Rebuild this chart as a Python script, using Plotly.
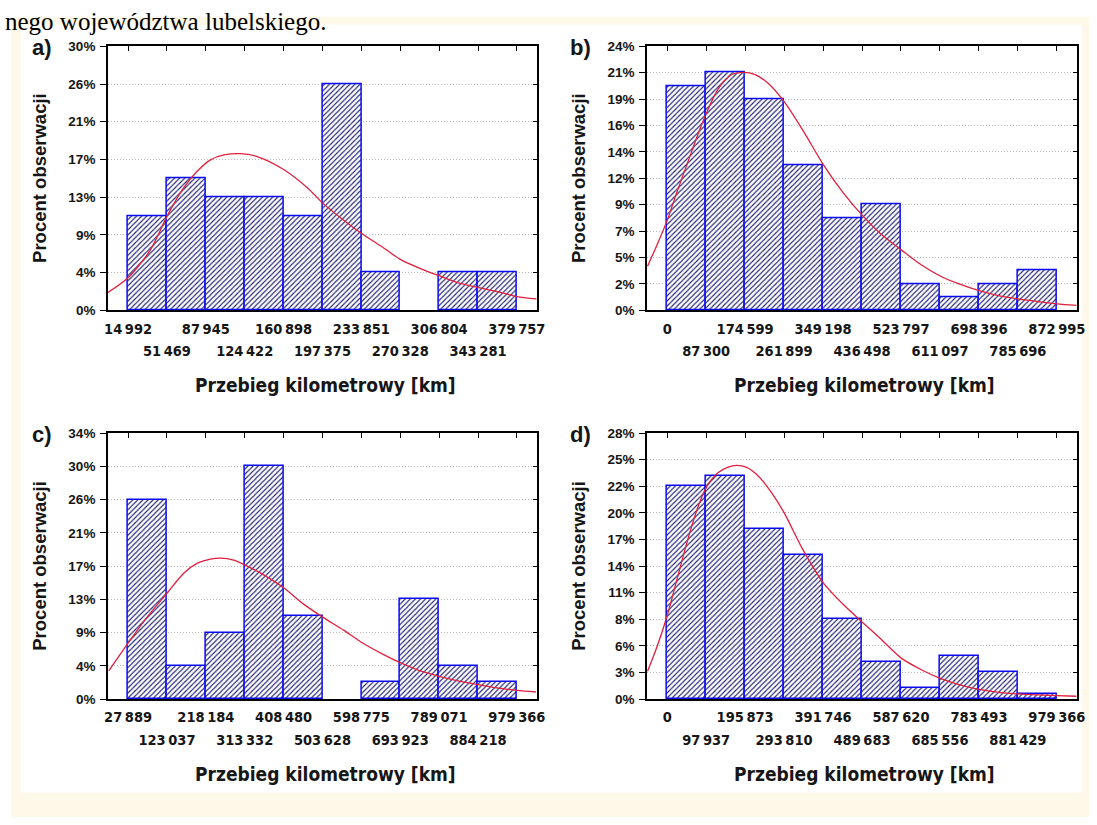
import plotly.graph_objects as go

W, H = 1097, 825

# ---------------------------------------------------------------- data
# class boundaries of the mileage histograms [km]
edges_a = [14992, 51469, 87945, 124422, 160898, 197375, 233851, 270328, 306804, 343281, 379757]
edges_b = [0, 87300, 174599, 261899, 349198, 436498, 523797, 611097, 698396, 785696, 872995]
edges_c = [27889, 123037, 218184, 313332, 408480, 503628, 598775, 693923, 789071, 884218, 979366]
edges_d = [0, 97937, 195873, 293810, 391746, 489683, 587620, 685556, 783493, 881429, 979366]

# share of observations in each class [%]
pct_a = [10.64, 14.89, 12.77, 12.77, 10.64, 25.53, 4.26, 0.0, 4.26, 4.26]
pct_b = [20.00, 21.18, 18.82, 12.94, 8.24, 9.41, 2.35, 1.18, 2.35, 3.53]
pct_c = [25.53, 4.26, 8.51, 29.79, 10.64, 0.0, 2.13, 12.77, 4.26, 2.13]
pct_d = [22.35, 23.46, 17.88, 15.08, 8.38, 3.91, 1.12, 4.47, 2.79, 0.56]

# top of the percentage scale and its tick labels
ymax_a = 29.79
ymax_b = 23.53
ymax_c = 34.04
ymax_d = 27.93
ylab_a = ["0%", "4%", "9%", "13%", "17%", "21%", "26%", "30%"]
ylab_b = ["0%", "2%", "5%", "7%", "9%", "12%", "14%", "16%", "19%", "21%", "24%"]
ylab_c = ["0%", "4%", "9%", "13%", "17%", "21%", "26%", "30%", "34%"]
ylab_d = ["0%", "3%", "6%", "8%", "11%", "14%", "17%", "20%", "22%", "25%", "28%"]

# fitted distribution curves (km, %)
fit_a_x = [-6300, 14992, 35970, 51940, 67270, 79800, 92320, 104870, 120520, 136170,
           161230, 183130, 197850, 217580, 234180, 255160, 270810, 292730, 307450,
           324040, 343740, 364720, 379760, 398200]
fit_a_y = [1.85, 3.69, 6.83, 10.71, 13.84, 15.69, 16.98, 17.53, 17.68, 17.35,
           15.87, 13.84, 12.07, 10.15, 8.67, 7.01, 5.72, 4.54, 3.88,
           3.14, 2.58, 2.03, 1.55, 1.29]

fit_b_x = [-43950, -22730, 0, 22730, 45470, 68200, 87150, 113670, 143980, 170510,
           197030, 227340, 262180, 303130, 350100, 394060, 437270, 477440, 524430,
           568340, 611550, 655520, 698680, 742660, 785870, 829820, 873000, 916900]
fit_b_y = [3.94, 5.83, 8.02, 10.64, 13.12, 15.60, 17.49, 19.68, 20.99, 21.20,
           21.00, 20.20, 18.60, 16.10, 12.97, 10.50, 8.46, 6.85, 5.39,
           4.08, 3.06, 2.33, 1.75, 1.31, 1.02, 0.79, 0.58, 0.44]

fit_c_x = [-19400, 27889, 74360, 124100, 164050, 196680, 229310, 253760, 286350, 314060,
           359740, 408660, 457600, 504040, 555420, 598630, 653200, 694030, 742940,
           789360, 832640, 883960, 930430, 979370, 1025800]
fit_c_y = [3.62, 7.17, 10.50, 13.62, 16.12, 17.37, 17.91, 18.04, 17.79, 17.16,
           15.91, 14.25, 12.16, 10.50, 8.83, 7.29, 5.71, 4.67, 3.62,
           2.92, 2.37, 1.87, 1.46, 1.12, 0.92]

fit_d_x = [-49260, -25500, 0, 25500, 51010, 76510, 97770, 127530, 153030, 174280,
           199790, 229550, 263560, 294170, 340090, 392800, 442110, 490520, 535630,
           588310, 637620, 686050, 735390, 783830, 833150, 881600, 930910, 979370, 1028600]
fit_d_y = [2.94, 5.51, 8.76, 12.70, 16.64, 20.06, 22.18, 23.76, 24.37, 24.54,
           24.34, 23.41, 21.60, 19.55, 15.78, 12.19, 9.96, 8.08, 6.37,
           4.31, 3.12, 2.19, 1.51, 1.03, 0.72, 0.55, 0.45, 0.38, 0.31]

x_title = "Przebieg kilometrowy [km]"
y_title = "Procent obserwacji"
heading = "nego województwa lubelskiego."

# ---------------------------------------------------------------- styling
CREAM = "#fdf8e8"
BAR_EDGE = "#0a0af0"
HATCH = "#262676"
CURVE = "#e0203c"
TXT = "#161616"
SANS = "Liberation Sans, Arial, sans-serif"
NARROW = "Liberation Sans Narrow, Arial Narrow, DejaVu Sans Condensed, sans-serif"

def px_x(p):
    return p / W

def px_y(p):
    return 1 - p / H

def km_label(v):
    s = f"{v:,}"
    return s.replace(",", "\u2009")

panels = [
    dict(letter="a)", edges=edges_a, pct=pct_a, ymax=ymax_a, ylab=ylab_a,
         fx=fit_a_x, fy=fit_a_y, box=(105, 539, 40, 309)),
    dict(letter="b)", edges=edges_b, pct=pct_b, ymax=ymax_b, ylab=ylab_b,
         fx=fit_b_x, fy=fit_b_y, box=(650, 1085, 40, 309)),
    dict(letter="c)", edges=edges_c, pct=pct_c, ymax=ymax_c, ylab=ylab_c,
         fx=fit_c_x, fy=fit_c_y, box=(105, 539, 434, 705)),
    dict(letter="d)", edges=edges_d, pct=pct_d, ymax=ymax_d, ylab=ylab_d,
         fx=fit_d_x, fy=fit_d_y, box=(650, 1085, 434, 705)),
]

fig = go.Figure()
layout = {}
annotations = []
n = len(panels)

for i, p in enumerate(panels):
    k = i + 1
    xa, ya = f"x{k}", f"y{k}"
    x_odd, x_top, y_right = f"x{k + n}", f"x{k + 2 * n}", f"y{k + n}"
    edges = p["edges"]
    centers = [(a + b) / 2 for a, b in zip(edges[:-1], edges[1:])]
    widths = [b - a for a, b in zip(edges[:-1], edges[1:])]
    bw = widths[0]
    xr = [edges[0] - 0.52 * bw, edges[-1] + 0.52 * bw]
    yr = [0, p["ymax"]]
    nt = len(p["ylab"])
    yticks = [p["ymax"] * j / (nt - 1) for j in range(nt)]
    x0, x1, y0, y1 = p["box"]
    xdom = [px_x(x0), px_x(x1)]
    ydom = [px_y(y1), px_y(y0)]

    fig.add_trace(go.Bar(
        x=centers, y=[v if v > 0 else None for v in p["pct"]], width=widths,
        xaxis=xa, yaxis=ya, showlegend=False, hoverinfo="skip",
        marker=dict(
            color=HATCH,
            line=dict(color=BAR_EDGE, width=1.5),
            pattern=dict(shape="/", fgcolor=HATCH, bgcolor="white",
                         size=3.6, solidity=0.33, fillmode="replace"),
        ),
    ))
    fig.add_trace(go.Scatter(
        x=p["fx"], y=p["fy"], xaxis=xa, yaxis=ya, mode="lines",
        line=dict(color=CURVE, width=1.3, shape="spline", smoothing=0.8),
        showlegend=False, hoverinfo="skip", cliponaxis=True,
    ))
    # helper traces so the overlay axes get drawn
    for ax_x, ax_y in ((x_odd, ya), (x_top, ya), (xa, y_right)):
        fig.add_trace(go.Scatter(x=[xr[0]], y=[0], xaxis=ax_x, yaxis=ax_y,
                                 mode="markers", marker=dict(opacity=0),
                                 showlegend=False, hoverinfo="skip"))

    tick_font = dict(family=NARROW, size=14.5, color=TXT, weight="bold")
    layout[f"xaxis{k}"] = dict(
        domain=xdom, anchor=ya, range=xr, fixedrange=True,
        tickmode="array", tickvals=edges[0::2],
        ticktext=[km_label(v) for v in edges[0::2]],
        ticks="", showgrid=False, zeroline=False,
        showline=True, linecolor="black", linewidth=1.5, mirror=True,
        tickfont=tick_font, ticklabelstandoff=4,
    )
    layout[f"xaxis{k + n}"] = dict(
        overlaying=xa, anchor=ya, side="bottom", range=xr, fixedrange=True,
        tickmode="array", tickvals=edges[1::2],
        ticktext=[km_label(v) for v in edges[1::2]],
        ticks="", showgrid=False, zeroline=False, showline=False,
        tickfont=tick_font, ticklabelstandoff=30,
    )
    layout[f"xaxis{k + 2 * n}"] = dict(
        overlaying=xa, anchor=ya, side="top", range=xr, fixedrange=True,
        tickmode="array", tickvals=edges, ticks="inside", ticklen=5,
        tickwidth=1.2, tickcolor="black", showticklabels=False,
        showgrid=False, zeroline=False, showline=False,
    )
    layout[f"yaxis{k}"] = dict(
        domain=ydom, anchor=xa, range=yr, fixedrange=True,
        tickmode="array", tickvals=yticks, ticktext=p["ylab"],
        ticks="outside", ticklen=6, tickwidth=1.2, tickcolor="black",
        showgrid=True, gridcolor="#b8b8b8", gridwidth=1, griddash="1px,2px",
        zeroline=False, showline=True, linecolor="black", linewidth=1.5, mirror=True,
        tickfont=dict(family=SANS, size=13.5, color=TXT, weight="bold"),
        ticklabelstandoff=2,
    )
    layout[f"yaxis{k + n}"] = dict(
        overlaying=ya, anchor=xa, side="right", range=yr, fixedrange=True,
        tickmode="array", tickvals=yticks, ticks="inside", ticklen=4,
        tickwidth=1.2, tickcolor="black", showticklabels=False,
        showgrid=False, zeroline=False, showline=False,
    )

    xc = (x0 + x1) / 2
    yc = (y0 + y1) / 2
    lx = x0 - 66
    annotations += [
        dict(text=p["letter"], x=px_x(lx - 1), y=px_y(y0 + 1), xref="paper", yref="paper",
             showarrow=False, xanchor="center", yanchor="middle",
             font=dict(family=SANS, size=22, color=TXT, weight="bold")),
        dict(text=y_title, x=px_x(lx - 3), y=px_y(yc), xref="paper", yref="paper",
             showarrow=False, textangle=-90, xanchor="center", yanchor="middle",
             font=dict(family=SANS, size=18.5, color=TXT, weight="bold")),
        dict(text=x_title, x=px_x(xc + 3), y=px_y(y1 + 76), xref="paper", yref="paper",
             showarrow=False, xanchor="center", yanchor="middle",
             font=dict(family=NARROW, size=19, color=TXT, weight="bold")),
    ]

annotations.append(dict(
    text=heading, x=px_x(0), y=1.0, xref="paper", yref="paper",
    showarrow=False, xanchor="left", yanchor="top", borderpad=0,
    font=dict(family="Liberation Serif, Times New Roman, serif", size=25, color="black"),
))

shapes = [
    dict(type="rect", xref="paper", yref="paper", layer="below",
         x0=px_x(7), x1=px_x(W), y0=px_y(H), y1=px_y(10),
         fillcolor=CREAM, line=dict(width=0)),
    dict(type="rect", xref="paper", yref="paper", layer="below",
         x0=px_x(17), x1=px_x(1090), y0=px_y(800), y1=px_y(18),
         fillcolor="white", line=dict(width=0)),
]

fig.update_layout(
    width=W, height=H, margin=dict(l=0, r=0, t=0, b=0),
    paper_bgcolor="white", plot_bgcolor="white",
    bargap=0, barmode="overlay", showlegend=False,
    annotations=annotations, shapes=shapes,
    **layout,
)

fig.write_html("out.html", config={"displayModeBar": False})
